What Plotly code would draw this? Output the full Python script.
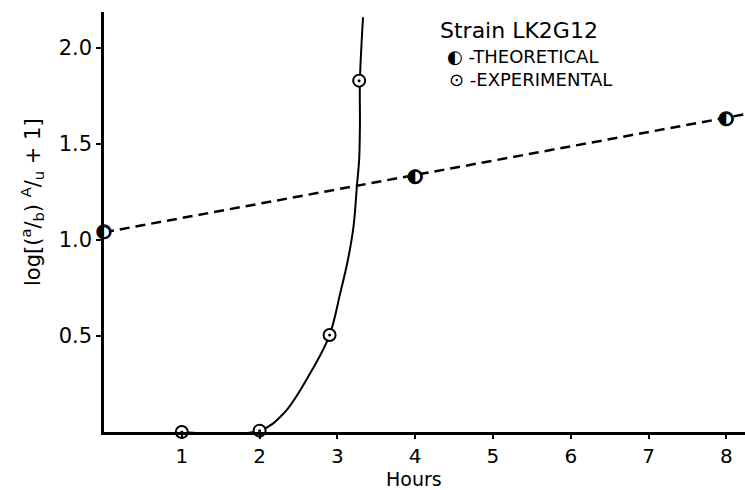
import plotly.graph_objects as go

# ---- data ----
HOURS_THEO = [0, 4, 8]
LOG_THEO = [1.04, 1.33, 1.63]
THEO_LINE_X = [0, 8.24]
THEO_LINE_Y = [1.04, 1.655]

HOURS_EXP = [1, 2, 2.90, 3.28]
LOG_EXP = [0.0, 0.007, 0.505, 1.83]

CURVE_X = [1, 2, 2.31, 2.65, 2.90, 3.036, 3.135, 3.207, 3.251, 3.28, 3.29, 3.29, 3.33]
CURVE_Y = [0.0, 0.007, 0.097, 0.306, 0.505, 0.722, 0.896, 1.069, 1.281, 1.42, 1.60, 1.83, 2.16]

X_TICKS = [1, 2, 3, 4, 5, 6, 7, 8]
Y_TICKS = [0.5, 1.0, 1.5, 2.0]
Y_TICK_TEXT = ["0.5", "1.0", "1.5", "2.0"]

FONT = "DejaVu Sans"

fig = go.Figure()

# theoretical dashed line
fig.add_trace(go.Scatter(x=THEO_LINE_X, y=THEO_LINE_Y, mode="lines",
                         line=dict(color="black", width=2.5, dash="10px,6px"),
                         showlegend=False, hoverinfo="skip"))
# experimental smooth curve
fig.add_trace(go.Scatter(x=CURVE_X, y=CURVE_Y, mode="lines",
                         line=dict(color="black", width=2, shape="spline", smoothing=1.0),
                         showlegend=False, hoverinfo="skip"))
# experimental markers: open circle with a dot
fig.add_trace(go.Scatter(x=HOURS_EXP, y=LOG_EXP, mode="markers",
                         marker=dict(symbol="circle", size=12, color="white",
                                     line=dict(color="black", width=2)),
                         showlegend=False, cliponaxis=False, hoverinfo="skip"))
fig.add_trace(go.Scatter(x=HOURS_EXP, y=LOG_EXP, mode="markers",
                         marker=dict(symbol="circle", size=3, color="black"),
                         showlegend=False, cliponaxis=False, hoverinfo="skip"))
# theoretical markers: half-filled circle
fig.add_trace(go.Scatter(x=HOURS_THEO, y=LOG_THEO, mode="markers",
                         marker=dict(symbol="circle", size=12, color="white",
                                     line=dict(color="black", width=2)),
                         showlegend=False, cliponaxis=False, hoverinfo="skip"))
fig.add_trace(go.Scatter(x=HOURS_THEO, y=LOG_THEO, mode="text",
                         text=["\u25D0"] * len(HOURS_THEO), textposition="middle center",
                         textfont=dict(family=FONT, size=20, color="black"),
                         showlegend=False, cliponaxis=False, hoverinfo="skip"))

W, H = 745, 490
L, R, T, B = 104, 0, 12, 58
pw = W - L - R
ph = H - T - B

def px_x(px):
    return (px - L) / pw

def px_y(py):
    return (H - B - py) / ph

annots = [
    dict(text="Strain LK2G12", x=px_x(438), y=px_y(31), xanchor="left", yanchor="middle",
         font=dict(family=FONT, size=22, color="black")),
    dict(text="\u25D0 -THEORETICAL", x=px_x(445), y=px_y(57), xanchor="left", yanchor="middle",
         font=dict(family=FONT, size=18, color="black")),
    dict(text="\u2299 -EXPERIMENTAL", x=px_x(447), y=px_y(79), xanchor="left", yanchor="middle",
         font=dict(family=FONT, size=18, color="black")),
    dict(text="log[(<sup>a</sup>/<sub>b</sub>) <sup>A</sup>/<sub>u</sub> + 1]",
         x=px_x(32), y=px_y(202), textangle=-90,
         xanchor="center", yanchor="middle",
         font=dict(family=FONT, size=21, color="black")),
    dict(text="Hours", x=px_x(414), y=px_y(479), xanchor="center", yanchor="middle",
         font=dict(family=FONT, size=19, color="black")),
]
for a in annots:
    a.update(xref="paper", yref="paper", showarrow=False)

fig.update_layout(
    width=W, height=H,
    margin=dict(l=L, r=R, t=T, b=B, pad=0),
    paper_bgcolor="white", plot_bgcolor="white",
    font=dict(family=FONT, size=21, color="black"),
    annotations=annots,
    hovermode=False,
    xaxis=dict(range=[0, 8.24], tickvals=X_TICKS, ticks="outside", ticklen=4,
               tickwidth=2, tickcolor="black", showgrid=False, zeroline=False,
               showline=True, linecolor="black", linewidth=2.5,
               tickfont=dict(family=FONT, size=20, color="black")),
    yaxis=dict(range=[0, 2.1875], tickvals=Y_TICKS, ticktext=Y_TICK_TEXT,
               ticks="outside", ticklen=5, tickwidth=2, tickcolor="black",
               showgrid=False, zeroline=False, showline=True, linecolor="black",
               linewidth=2.5, tickfont=dict(family=FONT, size=21, color="black")),
)

fig.write_html("out.html", config={"displayModeBar": False},
               post_script="document.body.style.margin='0';document.body.style.overflow='hidden';")
